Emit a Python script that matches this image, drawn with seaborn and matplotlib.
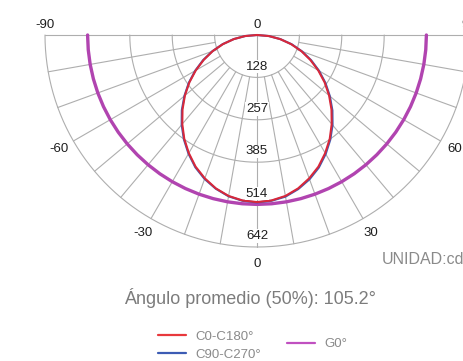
import numpy as np
import matplotlib
matplotlib.use("Agg")
import matplotlib.pyplot as plt
import seaborn as sns
from matplotlib.lines import Line2D

# photometric data (cd), angle measured from nadir, negative = left side
angles = [-90, -85, -80, -75, -70, -65, -60, -55, -50, -45, -40, -35, -30, -25, -20, -15, -10, -5,
          0, 5, 10, 15, 20, 25, 30, 35, 40, 45, 50, 55, 60, 65, 70, 75, 80, 85, 90]
c0_c180 = [0, 36, 71, 107, 143, 178, 214, 250, 285, 319, 352, 384, 413, 440, 462, 481, 495, 503,
           506, 503, 495, 481, 462, 440, 413, 384, 352, 319, 285, 250, 214, 178, 143, 107, 71, 36, 0]
c90_c270 = [0, 36, 72, 108, 144, 180, 216, 252, 287, 322, 355, 386, 415, 442, 464, 482, 496, 504,
            507, 504, 497, 483, 465, 443, 416, 387, 356, 323, 288, 253, 217, 181, 145, 109, 72, 36, 0]
g0 = [513] * len(angles)

ring_labels = ["128", "257", "385", "514", "642"]
angle_labels = ["-90", "-60", "-30", "0", "30", "60", "90"]
series_names = ["C0-C180°", "C90-C270°", "G0°"]
title = "Ángulo promedio (50%): 105.2°"
unit = "UNIDAD:cd"

sns.set_style("white")
plt.rcParams['font.family'] = ['Liberation Sans', 'DejaVu Sans']

fig = plt.figure(figsize=(4.64, 3.61), dpi=100)
ax = fig.add_axes([0, 0, 1, 1])
s = 642 / 212.0
ax.set_xlim(-257 * s, (464 - 257) * s)
ax.set_ylim(-(361 - 35) * s, 35 * s)
ax.set_aspect('equal')
ax.axis('off')

rmax = 642
step = rmax / 5
grid = dict(color='#aeaeae', lw=0.8, zorder=1)

# rings
t = np.radians(np.linspace(-90, 90, 361))
for k in range(1, 6):
    r = step * k
    ax.plot(r * np.sin(t), -r * np.cos(t), **grid)
# spokes
for a in range(-80, 90, 10):
    th = np.radians(a)
    r0 = 0 if a == 0 else step
    ax.plot([r0 * np.sin(th), rmax * np.sin(th)], [-r0 * np.cos(th), -rmax * np.cos(th)], **grid)
ax.plot([-rmax, rmax], [0, 0], **grid)

# curves
th = np.radians(angles)
def to_xy(vals):
    v = np.array(vals, dtype=float)
    return v * np.sin(th), -v * np.cos(th)

colors = ['#d8283a', '#3c5cb4', '#b144b0']
x, y = to_xy(g0)
sns.lineplot(x=x, y=y, sort=False, estimator=None, color=colors[2], lw=2.4, ax=ax, zorder=3)
x, y = to_xy(c90_c270)
sns.lineplot(x=x, y=y, sort=False, estimator=None, color=colors[1], lw=1.5, ax=ax, zorder=4)
x, y = to_xy(c0_c180)
sns.lineplot(x=x, y=y, sort=False, estimator=None, color=colors[0], lw=1.5, ax=ax, zorder=5)

lab_kw = dict(ha='center', va='center', fontsize=9.5, color='#1e1e1e')

# ring value labels
for k, lab in enumerate(ring_labels, start=1):
    ax.text(0, -(step * k - 33), lab, zorder=6,
            bbox=dict(facecolor='white', edgecolor='none', pad=0.5), **lab_kw)

# angle labels
for lab in angle_labels:
    a = int(lab)
    if abs(a) == 90:
        ax.text(np.sign(a) * rmax, 30, lab, **lab_kw)
    else:
        rr = 692
        ax.text(rr * np.sin(np.radians(a)), -rr * np.cos(np.radians(a)), lab, **lab_kw)
ax.text(0, 30, "0", **lab_kw)

fig.text(382 / 464, 1 - 259 / 361, unit, ha='left', va='center', fontsize=11.5, color='#8a8a8a')
fig.text(250 / 464, 1 - 298 / 361, title, ha='center', va='center', fontsize=13, color='#7c7c7c')

h1 = [Line2D([], [], color='#e8383c', lw=1.6), Line2D([], [], color='#3c5cb4', lw=1.6)]
h2 = [Line2D([], [], color='#c050c0', lw=1.6)]
leg_kw = dict(frameon=False, fontsize=9.5, handlelength=2.1, handletextpad=0.75,
              borderpad=0, borderaxespad=0, labelcolor='#8a8a8a')
l1 = fig.legend(h1, series_names[:2], loc='center left', bbox_to_anchor=(158 / 464, 1 - 345.5 / 361),
                labelspacing=0.45, **leg_kw)
l2 = fig.legend(h2, series_names[2:], loc='center left', bbox_to_anchor=(287 / 464, 1 - 344 / 361), **leg_kw)

fig.savefig("out.png", dpi=100)
